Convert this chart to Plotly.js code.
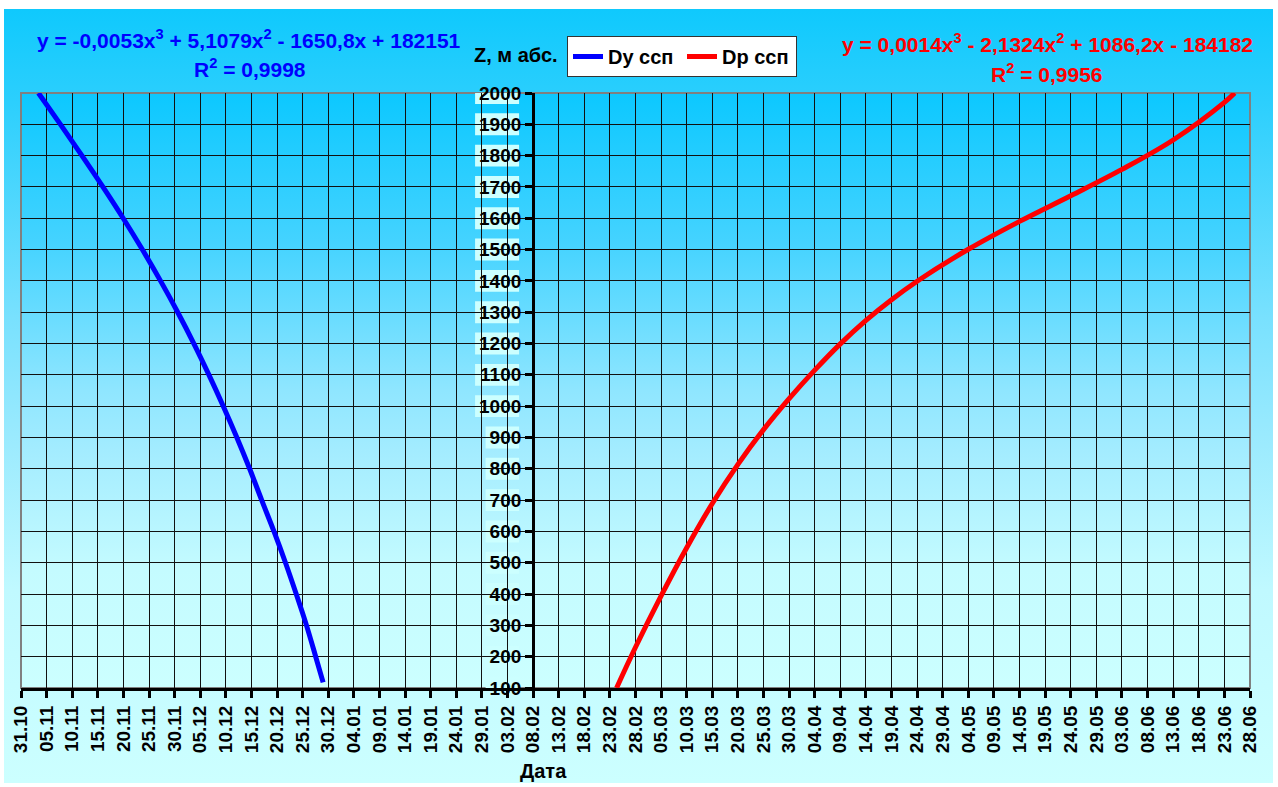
<!DOCTYPE html>
<html><head><meta charset="utf-8">
<script src="https://cdn.plot.ly/plotly-3.0.1.min.js"></script>
<style>
html,body{margin:0;padding:0;background:#fff;}
#wrap{position:relative;width:1278px;height:787px;overflow:hidden;background:#fff;}
#outerBg{position:absolute;left:4px;top:9px;width:1269px;height:774px;
 background:linear-gradient(to bottom,#0fc9fd 0%,#2ccffd 12%,#79e1fe 40%,#9aeafe 55%,#c0f9ff 75%,#ccffff 100%);}
#plotBg{position:absolute;left:21px;top:93px;width:1229px;height:595px;
 background:linear-gradient(to bottom,#0cc8ff 0%,#44d3ff 25%,#8fe6ff 50%,#a3ecff 60%,#c4fbff 80%,#ccffff 100%);}
#chart{position:absolute;left:0;top:0;width:1278px;height:787px;}
</style></head>
<body><div id="wrap"><div id="outerBg"></div><div id="plotBg"></div><div id="chart"></div></div>
<script>
// ---- data (x = days after 31.10, y = Z, m abs.) ----
const xTickLabels = ['31.10','05.11','10.11','15.11','20.11','25.11','30.11','05.12','10.12','15.12','20.12','25.12','30.12','04.01','09.01','14.01','19.01','24.01','29.01','03.02','08.02','13.02','18.02','23.02','28.02','05.03','10.03','15.03','20.03','25.03','30.03','04.04','09.04','14.04','19.04','24.04','29.04','04.05','09.05','14.05','19.05','24.05','29.05','03.06','08.06','13.06','18.06','23.06','28.06'];
const yTickValues = [100,200,300,400,500,600,700,800,900,1000,1100,1200,1300,1400,1500,1600,1700,1800,1900,2000];

const blueName = 'Dy ссп';
const blueDay = [3.4, 7.7, 11.9, 16.0, 19.95, 23.7, 27.25, 30.6, 33.75, 36.7, 39.5, 42.15, 44.65, 47.0, 49.4, 51.65, 53.75, 55.75, 57.55, 59.0];
const blueZ   = [2000, 1900, 1800, 1700, 1600, 1500, 1400, 1300, 1200, 1100, 1000, 900, 800, 700, 600, 500, 400, 300, 200, 118];

const redName = 'Dp ссп';
const redDay = [116.3, 120.0, 125.0, 130.0, 135.0, 140.0, 145.0, 150.0, 155.0, 160.0, 165.0, 170.0, 175.0, 185.0, 195.0, 205.0, 215.0, 225.0, 235.0, 237.0];
const redZ   = [100, 230, 394, 548, 689, 814, 925, 1024, 1115, 1199, 1274, 1340, 1399, 1501, 1590, 1672, 1756, 1850, 1970, 2000];

const blueEq = 'y = -0,0053x<sup>3</sup> + 5,1079x<sup>2</sup> - 1650,8x + 182151';
const blueR2 = 'R<sup>2</sup> = 0,9998';
const redEq  = 'y = 0,0014x<sup>3</sup> - 2,1324x<sup>2</sup> + 1086,2x - 184182';
const redR2  = 'R<sup>2</sup> = 0,9956';
const yTitle = 'Z, м абс.';
const xTitle = 'Дата';
const yAxisCrossLabel = '08.02';

// ---- layout geometry ----
const W = 1278, H = 787;
const FONT = 'Liberation Sans, Arial, sans-serif';
const xRange = [0, (xTickLabels.length - 1) * 5];
const xDom = [21 / W, 1250 / W];
const yDom = [(H - 688) / H, (H - 93) / H];
const crossDay = xTickLabels.indexOf(yAxisCrossLabel) * 5;
const yPos = xDom[0] + (crossDay - xRange[0]) / (xRange[1] - xRange[0]) * (xDom[1] - xDom[0]);
const axisPx = yPos * W;

const px = v => v / W, py = v => 1 - v / H;

const traces = [
  {x: blueDay, y: blueZ, name: blueName, type: 'scatter', mode: 'lines',
   line: {color: '#0000ff', width: 5, shape: 'spline', smoothing: 1}},
  {x: redDay, y: redZ, name: redName, type: 'scatter', mode: 'lines',
   line: {color: '#ff0000', width: 5, shape: 'spline', smoothing: 1}}
];

const shapes = [
  {type: 'rect', layer: 'below', xref: 'paper', yref: 'paper', x0: xDom[0], x1: xDom[1], y0: yDom[0], y1: yDom[1],
   line: {color: '#808080', width: 2}, fillcolor: 'rgba(0,0,0,0)'}
];
yTickValues.forEach(v => {
  const w = String(v).length * 10.5 + 2;
  shapes.push({type: 'rect', layer: 'between', xref: 'paper', yref: 'y',
    x0: px(axisPx - 14 - w), x1: px(axisPx - 14), y0: v - 35, y1: v + 35,
    fillcolor: '#ccffff', line: {width: 0}});
});

const bold = (size, color) => ({family: FONT, size: size, color: color || '#000', weight: 700});

const layout = {
  width: W, height: H,
  margin: {l: 0, r: 0, t: 0, b: 0, pad: 0},
  paper_bgcolor: 'rgba(0,0,0,0)', plot_bgcolor: 'rgba(0,0,0,0)',
  font: bold(19),
  showlegend: true,
  legend: {orientation: 'h', x: px(567), y: py(36), xanchor: 'left', yanchor: 'top',
    bgcolor: '#ffffff', bordercolor: '#333333', borderwidth: 1, font: bold(20),
    itemwidth: 30, tracegroupgap: 0, entrywidth: 69},
  xaxis: {domain: xDom, range: xRange, type: 'linear',
    tickmode: 'array', tickvals: xTickLabels.map((_, i) => i * 5), ticktext: xTickLabels,
    tickangle: -90, tickfont: bold(19),
    ticks: 'outside', ticklen: 7, tickwidth: 3, tickcolor: '#000',
    showline: true, linecolor: '#000', linewidth: 3,
    showgrid: true, gridcolor: '#111', gridwidth: 1, zeroline: false, fixedrange: true},
  yaxis: {domain: yDom, range: [100, 2000], anchor: 'free', position: yPos,
    tickmode: 'array', tickvals: yTickValues, ticktext: yTickValues.map(String),
    tickfont: bold(19), ticks: 'outside', ticklen: 7, tickwidth: 3, tickcolor: '#000',
    showline: true, linecolor: '#000', linewidth: 3,
    showgrid: true, gridcolor: '#111', gridwidth: 1, zeroline: false, fixedrange: true},
  shapes: shapes,
  annotations: [
    {xref: 'paper', yref: 'paper', x: px(249), y: py(39), text: blueEq, showarrow: false, xanchor: 'center', yanchor: 'middle', font: bold(21, '#0000ff')},
    {xref: 'paper', yref: 'paper', x: px(250), y: py(68), text: blueR2, showarrow: false, xanchor: 'center', yanchor: 'middle', font: bold(21, '#0000ff')},
    {xref: 'paper', yref: 'paper', x: px(1047), y: py(43), text: redEq, showarrow: false, xanchor: 'center', yanchor: 'middle', font: bold(21, '#ff0000')},
    {xref: 'paper', yref: 'paper', x: px(1047), y: py(73), text: redR2, showarrow: false, xanchor: 'center', yanchor: 'middle', font: bold(21, '#ff0000')},
    {xref: 'paper', yref: 'paper', x: px(516), y: py(55), text: yTitle, showarrow: false, xanchor: 'center', yanchor: 'middle', font: bold(20)},
    {xref: 'paper', yref: 'paper', x: px(543), y: py(771), text: xTitle, showarrow: false, xanchor: 'center', yanchor: 'middle', font: bold(20)}
  ]
};

Plotly.newPlot('chart', traces, layout, {staticPlot: true, displayModeBar: false});
</script>
</body></html>
